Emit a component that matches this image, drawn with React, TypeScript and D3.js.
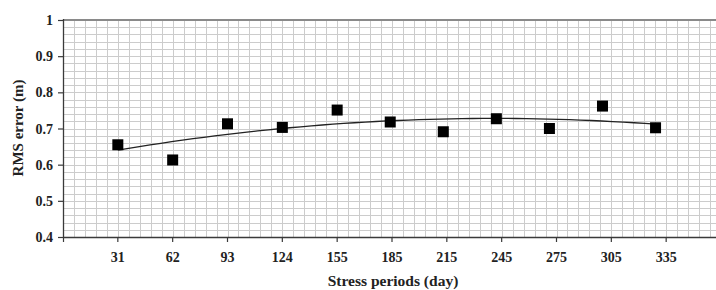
import React from 'react';
import { scaleLinear, line, range } from 'd3';

// stress period (day) and RMS error (m)
const days = [31, 62, 93, 124, 155, 185, 215, 245, 275, 305, 335];
const rmsError = [0.655, 0.613, 0.713, 0.703, 0.751, 0.718, 0.691, 0.727, 0.7, 0.762, 0.702];
// axis labels (ticks sit every 31 days, labels as printed)
const xTickLabels = ['31', '62', '93', '124', '155', '185', '215', '245', '275', '305', '335'];
const yTicks = [0.4, 0.5, 0.6, 0.7, 0.8, 0.9, 1];

const W = 716;
const H = 290;
const left = 63;
const top = 20;
const bottom = 237;

// least squares 2nd order fit (excel style polynomial trendline)
const polyFit = (xs: number[], ys: number[]) => {
	const s = [0, 0, 0, 0, 0];
	const t = [0, 0, 0];
	xs.forEach((x, i) => {
		for (let k = 0; k < 5; k++) s[k] += Math.pow(x, k);
		for (let k = 0; k < 3; k++) t[k] += Math.pow(x, k) * ys[i];
	});
	const m = [
		[s[0], s[1], s[2], t[0]],
		[s[1], s[2], s[3], t[1]],
		[s[2], s[3], s[4], t[2]],
	];
	for (let c = 0; c < 3; c++) {
		for (let r = c + 1; r < 3; r++) {
			const f = m[r][c] / m[c][c];
			for (let k = c; k < 4; k++) m[r][k] -= f * m[c][k];
		}
	}
	const a = [0, 0, 0];
	for (let r = 2; r >= 0; r--) {
		let v = m[r][3];
		for (let k = r + 1; k < 3; k++) v -= m[r][k] * a[k];
		a[r] = v / m[r][r];
	}
	return (x: number) => a[0] + a[1] * x + a[2] * x * x;
};

const font = 'Liberation Serif';

export default function App() {
	const x = scaleLinear().domain([0, 372]).range([left, 721]);
	const y = scaleLinear().domain([0.4, 1]).range([bottom, top]);

	const fit = polyFit(days, rmsError);
	const trendPts = range(days[0], days[days.length - 1] + 0.1, 6.08).map((d) => [d, fit(d)] as [number, number]);
	const trendPath = line<[number, number]>()
		.x((d) => x(d[0]))
		.y((d) => y(d[1]))(trendPts);

	const vGrid = range(6.2, 372, 6.2);
	const hGrid = range(0.42, 1.0, 0.02);
	const xTicks = xTickLabels.map((_, i) => (i + 1) * 31);

	return (
		<svg width={W} height={H} style={{ position: 'fixed', left: 0, top: 0, background: '#fff' }}>
			{/* grid */}
			<g stroke="#cccccc" strokeWidth={1}>
				{hGrid.map((v) => (
					<line key={'h' + v} x1={left} x2={W} y1={Math.round(y(v)) + 0.5} y2={Math.round(y(v)) + 0.5} />
				))}
				{vGrid.map((d) => (
					<line key={'v' + d} x1={Math.round(x(d)) + 0.5} x2={Math.round(x(d)) + 0.5} y1={top} y2={bottom} />
				))}
			</g>

			{/* frame */}
			<line x1={left} x2={W} y1={top} y2={top} stroke="#8a8a8a" strokeWidth={2} />
			<line x1={left + 0.5} x2={left + 0.5} y1={top - 1} y2={bottom} stroke="#3a3a3a" strokeWidth={1.3} />
			<line x1={left} x2={W} y1={bottom + 0.5} y2={bottom + 0.5} stroke="#3a3a3a" strokeWidth={1.3} />

			{/* y axis */}
			{yTicks.map((v) => (
				<g key={'yt' + v}>
					<line x1={left - 5} x2={left} y1={y(v) + 0.5} y2={y(v) + 0.5} stroke="#3a3a3a" strokeWidth={1.2} />
					<text x={53} y={y(v) + 5} textAnchor="end" fontFamily={font} fontWeight="bold" fontSize={14} fill="#222">
						{v === 1 ? '1' : v.toFixed(1)}
					</text>
				</g>
			))}

			{/* x axis */}
			<line x1={left + 0.5} x2={left + 0.5} y1={bottom} y2={bottom + 5} stroke="#3a3a3a" strokeWidth={1.2} />
			{xTicks.map((d, i) => (
				<g key={'xt' + d}>
					<line x1={x(d)} x2={x(d)} y1={bottom} y2={bottom + 5} stroke="#3a3a3a" strokeWidth={1.2} />
					<text x={x(d)} y={262} textAnchor="middle" fontFamily={font} fontWeight="bold" fontSize={14} fill="#222">
						{xTickLabels[i]}
					</text>
				</g>
			))}

			{/* axis titles */}
			<text x={393} y={286} textAnchor="middle" fontFamily={font} fontWeight="bold" fontSize={15.5} fill="#222">
				Stress periods (day)
			</text>
			<text
				transform="translate(23, 128) rotate(-90)"
				textAnchor="middle"
				fontFamily={font}
				fontWeight="bold"
				fontSize={15}
				fill="#222">
				RMS error (m)
			</text>

			{/* trendline */}
			<path d={trendPath || ''} fill="none" stroke="#222" strokeWidth={1.3} />

			{/* points */}
			{days.map((d, i) => (
				<rect key={'p' + d} x={x(d) - 5.5} y={y(rmsError[i]) - 5.5} width={11} height={11} fill="#000" />
			))}
		</svg>
	);
}
